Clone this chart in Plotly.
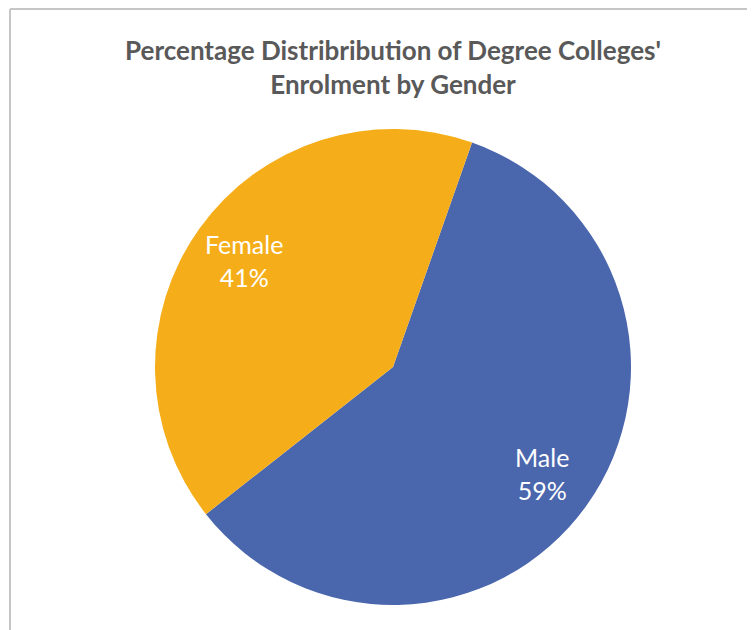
import math
import plotly.graph_objects as go

# data
genders = ["Male", "Female"]
shares = [59, 41]
colors = ["#4a66ad", "#f5ae1a"]

W, H = 755, 630
OFF = 8  # page body margin in the browser
start_angle = 19.4

# pie geometry in figure pixels
cx, cy, R = 393 - OFF, 367 - OFF, 238

fig = go.Figure()

fig.add_trace(
    go.Pie(
        labels=genders,
        values=shares,
        sort=False,
        direction="clockwise",
        rotation=start_angle,
        marker=dict(colors=colors, line=dict(width=0)),
        textinfo="none",
        hoverinfo="label+percent",
        domain=dict(x=[(cx - R) / W, (cx + R) / W], y=[1 - (cy + R) / H, 1 - (cy - R) / H]),
        showlegend=False,
    )
)

# slice labels placed along each slice's bisector
total = sum(shares)
cum = 0
for name, val in zip(genders, shares):
    mid = math.radians(start_angle + 360 * (cum + val / 2) / total)
    cum += val
    lx = cx + 0.77 * R * math.sin(mid)
    ly = cy - 0.77 * R * math.cos(mid)
    fig.add_annotation(
        x=lx / W, y=1 - ly / H, xref="paper", yref="paper",
        xanchor="center", yanchor="middle",
        text=f"{name}<br>{round(100 * val / total)}%",
        showarrow=False,
        font=dict(family="Lato", size=25, color="white"),
    )

# frame lines along top and left edge
fig.add_shape(type="line", xref="paper", yref="paper", x0=2 / W, x1=1, y0=1 - 1 / H, y1=1 - 1 / H,
              line=dict(color="#c6c6c6", width=2))
fig.add_shape(type="line", xref="paper", yref="paper", x0=2 / W, x1=2 / W, y0=0, y1=1 - 1 / H,
              line=dict(color="#c6c6c6", width=2))

fig.update_layout(
    width=W,
    height=H,
    margin=dict(l=0, r=0, t=0, b=0),
    paper_bgcolor="white",
    plot_bgcolor="white",
    title=dict(
        text="<b>Percentage Distribribution of Degree Colleges'<br>Enrolment by Gender</b>",
        x=(393 - OFF) / W,
        xanchor="center",
        y=1 - (60 - OFF) / H,
        yanchor="middle",
        yref="container",
        font=dict(family="Lato", size=26, color="#595959"),
    ),
)

fig.write_html("out.html")
